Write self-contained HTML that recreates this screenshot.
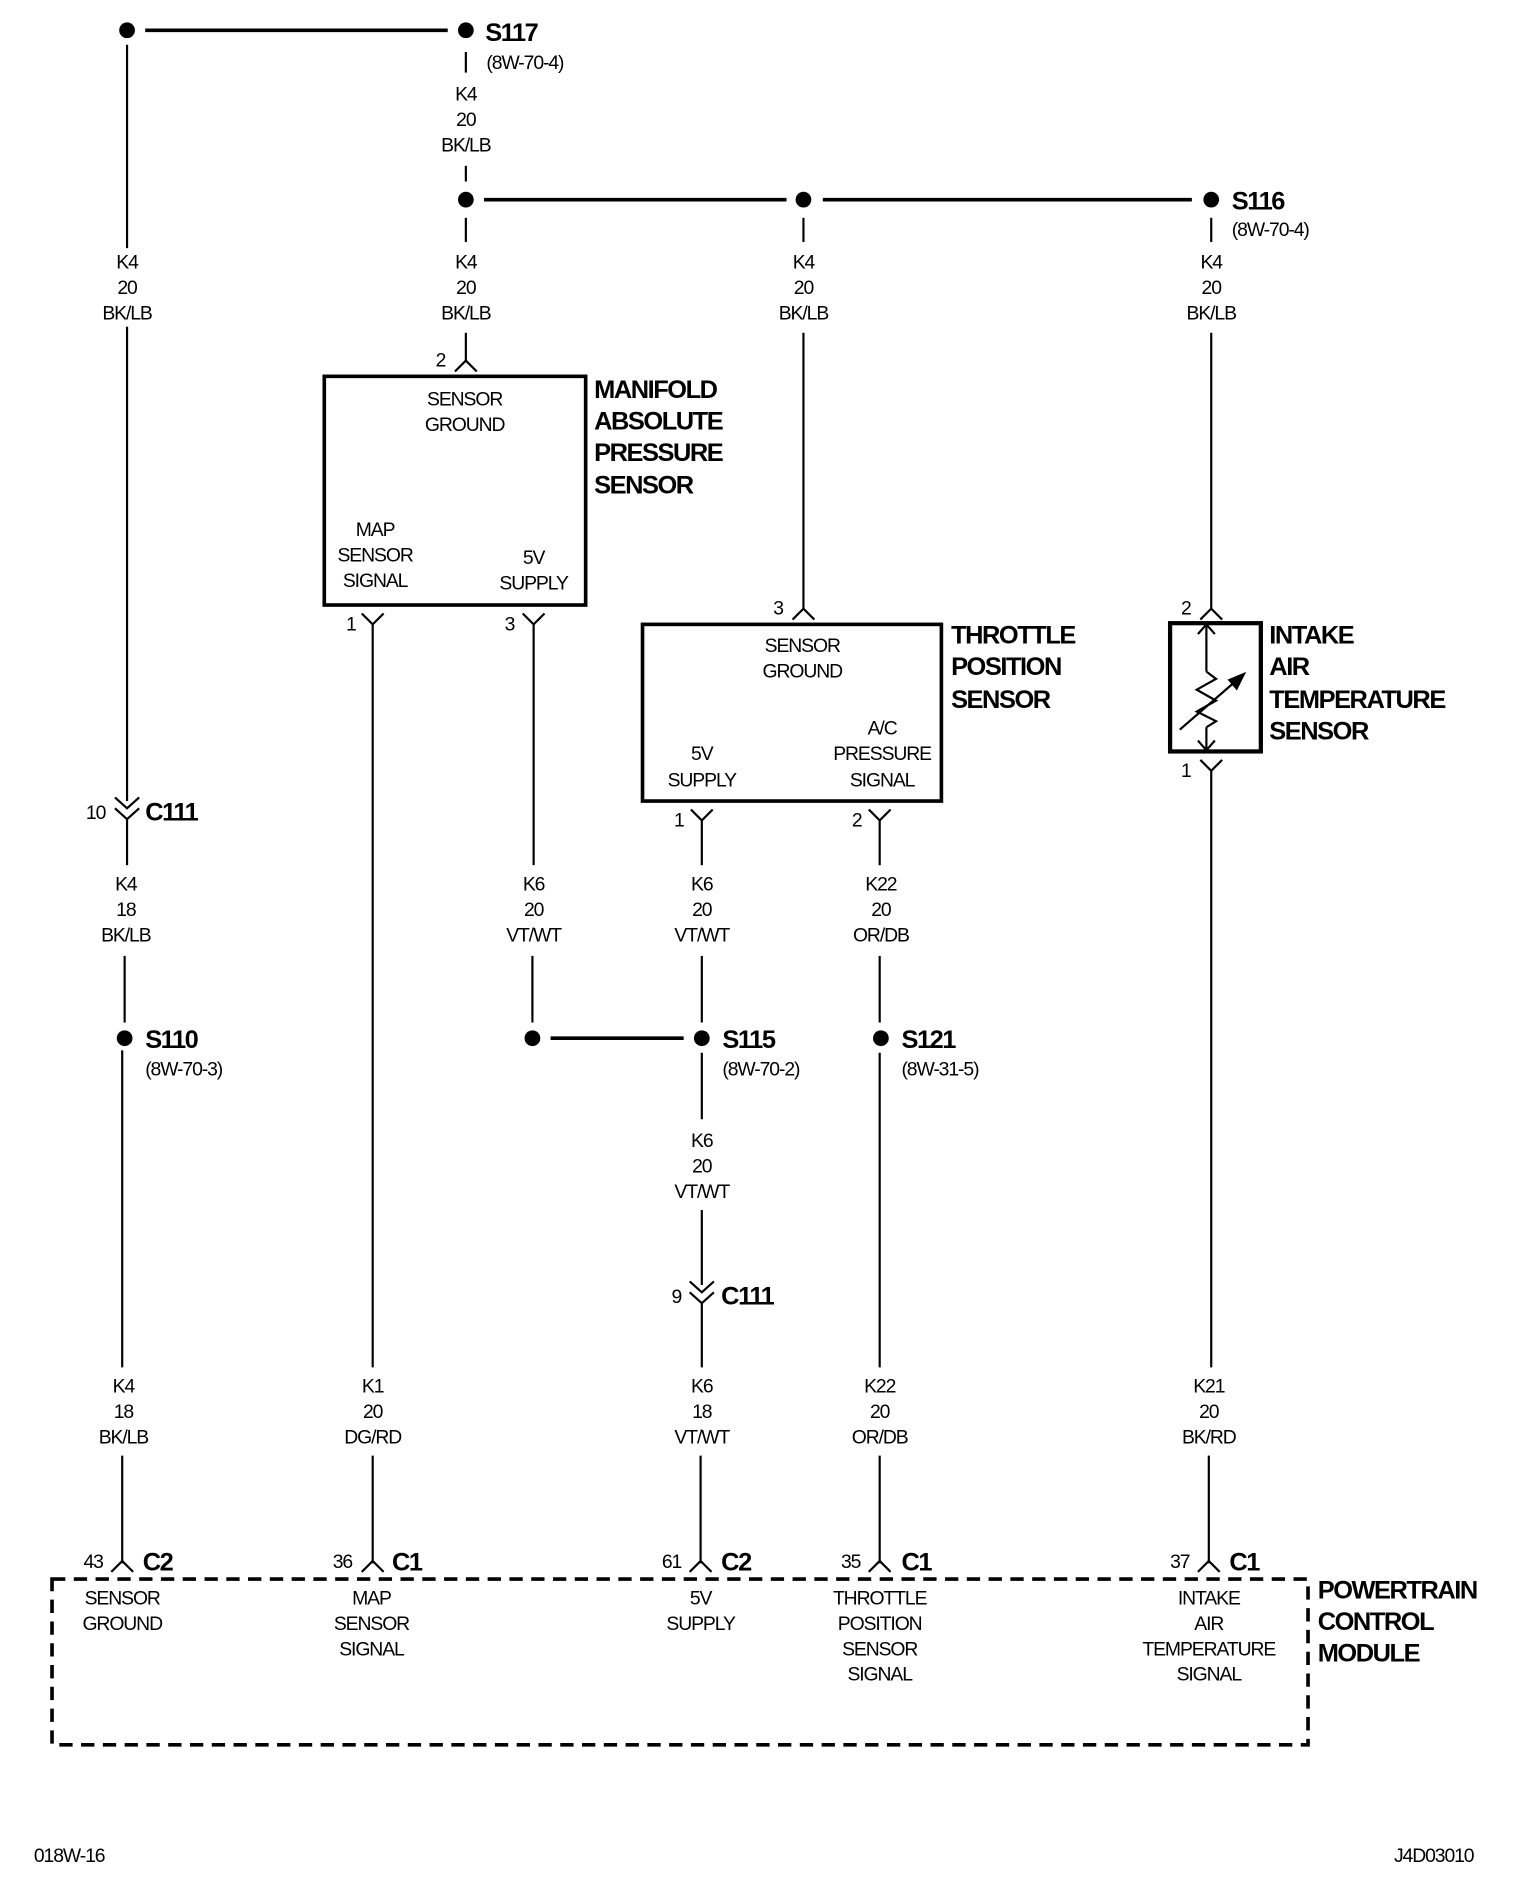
<!DOCTYPE html>
<html><head><meta charset="utf-8"><style>
html,body{margin:0;padding:0;background:#fff;}
svg{display:block;}
text{font-family:"Liberation Sans",sans-serif;fill:#000;}
.s{font-size:16px;letter-spacing:-0.9px;text-anchor:middle;}
.sl{font-size:16px;letter-spacing:-0.9px;}
.b{font-size:21px;font-weight:bold;letter-spacing:-1.2px;}
</style></head><body>
<svg width="1536" height="1904" viewBox="0 0 1269.4 1573.5" xmlns="http://www.w3.org/2000/svg">
<g stroke="#000" stroke-width="1.8" fill="none">
<line x1="120" y1="25" x2="370" y2="25" stroke-width="3"/>
<line x1="105" y1="37" x2="105" y2="205"/>
<line x1="105" y1="270" x2="105" y2="662"/>
<polyline points="95,659 105,668 115,659"/><polyline points="95,668 105,677 115,668"/>
<line x1="105" y1="677" x2="105" y2="715"/>
<line x1="103" y1="790" x2="103" y2="845"/>
<line x1="101" y1="868" x2="101" y2="1130"/>
<line x1="101" y1="1203" x2="101" y2="1292"/>
<polyline points="92,1299 101,1290 110,1299"/>
<line x1="385" y1="43" x2="385" y2="60"/>
<line x1="385" y1="137" x2="385" y2="150"/>
<line x1="385" y1="180" x2="385" y2="200"/>
<line x1="385" y1="275" x2="385" y2="298"/>
<polyline points="376,307 385,298 394,307"/>
<line x1="400" y1="165" x2="650" y2="165" stroke-width="3"/>
<line x1="680" y1="165" x2="985" y2="165" stroke-width="3"/>
<line x1="664" y1="180" x2="664" y2="200"/>
<line x1="664" y1="275" x2="664" y2="503"/>
<polyline points="655,512 664,503 673,512"/>
<line x1="1001" y1="180" x2="1001" y2="200"/>
<line x1="1001" y1="275" x2="1001" y2="503"/>
<polyline points="992,512 1001,503 1010,512"/>
<rect x="268" y="311" width="216" height="189" stroke-width="3"/>
<polyline points="299,507 308,516 317,507"/><line x1="308" y1="516" x2="308" y2="1130"/>
<polyline points="432,507 441,516 450,507"/><line x1="441" y1="516" x2="441" y2="715"/>
<line x1="308" y1="1203" x2="308" y2="1292"/>
<polyline points="299,1299 308,1290 317,1299"/>
<line x1="440" y1="790" x2="440" y2="845"/>
<line x1="455" y1="858" x2="565" y2="858" stroke-width="3"/>
<rect x="531" y="516" width="247" height="146" stroke-width="3"/>
<polyline points="571,669 580,678 589,669"/><line x1="580" y1="678" x2="580" y2="715"/>
<polyline points="718,669 727,678 736,669"/><line x1="727" y1="678" x2="727" y2="715"/>
<line x1="580" y1="790" x2="580" y2="845"/>
<line x1="580" y1="870" x2="580" y2="925"/>
<line x1="580" y1="1000" x2="580" y2="1062"/>
<polyline points="570,1059 580,1068 590,1059"/><polyline points="570,1068 580,1077 590,1068"/>
<line x1="580" y1="1077" x2="580" y2="1130"/>
<line x1="579" y1="1203" x2="579" y2="1292"/>
<polyline points="570,1299 579,1290 588,1299"/>
<line x1="727" y1="790" x2="727" y2="845"/>
<line x1="727" y1="870" x2="727" y2="1130"/>
<line x1="727" y1="1203" x2="727" y2="1292"/>
<polyline points="718,1299 727,1290 736,1299"/>
<rect x="967" y="515" width="75" height="106" stroke-width="3.5"/>
<line x1="997" y1="516" x2="997" y2="555"/>
<polyline points="990,524 997,516 1004,524"/>
<polyline points="997,555 1005,561 989,570 1005,579 989,588 1005,596 997,601"/>
<line x1="997" y1="601" x2="997" y2="620"/>
<polyline points="990,612 997,620 1004,612"/>
<line x1="975" y1="603" x2="1028" y2="557"/>
<polygon points="1028,557 1016,562 1022,569" fill="#000"/>
<polyline points="992,628 1001,637 1010,628"/>
<line x1="1001" y1="637" x2="1001" y2="1130"/>
<line x1="999" y1="1203" x2="999" y2="1292"/>
<polyline points="990,1299 999,1290 1008,1299"/>
<rect x="43" y="1305" width="1038" height="137" stroke-width="3" stroke-dasharray="11,7"/>
</g>
<g fill="#000">
<circle cx="105" cy="25" r="6.5"/><circle cx="385" cy="25" r="6.5"/>
<circle cx="385" cy="165" r="6.5"/><circle cx="664" cy="165" r="6.5"/><circle cx="1001" cy="165" r="6.5"/>
<circle cx="103" cy="858" r="6.5"/><circle cx="440" cy="858" r="6.5"/><circle cx="580" cy="858" r="6.5"/><circle cx="728" cy="858" r="6.5"/>
</g>
<text class="b" x="401" y="34">S117</text><text class="sl" x="402" y="57">(8W-70-4)</text>
<text class="b" x="1018" y="173">S116</text><text class="sl" x="1018" y="195">(8W-70-4)</text>
<text class="b" x="120" y="678">C111</text><text class="sl" x="71" y="677">10</text>
<text class="b" x="120" y="866">S110</text><text class="sl" x="120" y="889">(8W-70-3)</text>
<text class="b" x="597" y="866">S115</text><text class="sl" x="597" y="889">(8W-70-2)</text>
<text class="b" x="745" y="866">S121</text><text class="sl" x="745" y="889">(8W-31-5)</text>
<text class="b" x="596" y="1078">C111</text><text class="sl" x="555" y="1077">9</text>
<g class="s">
<text x="385" y="83">K4</text><text x="385" y="104">20</text><text x="385" y="125">BK/LB</text>
<text x="105" y="222">K4</text><text x="105" y="243">20</text><text x="105" y="264">BK/LB</text>
<text x="385" y="222">K4</text><text x="385" y="243">20</text><text x="385" y="264">BK/LB</text>
<text x="664" y="222">K4</text><text x="664" y="243">20</text><text x="664" y="264">BK/LB</text>
<text x="1001" y="222">K4</text><text x="1001" y="243">20</text><text x="1001" y="264">BK/LB</text>
<text x="104" y="736">K4</text><text x="104" y="757">18</text><text x="104" y="778">BK/LB</text>
<text x="441" y="736">K6</text><text x="441" y="757">20</text><text x="441" y="778">VT/WT</text>
<text x="580" y="736">K6</text><text x="580" y="757">20</text><text x="580" y="778">VT/WT</text>
<text x="728" y="736">K22</text><text x="728" y="757">20</text><text x="728" y="778">OR/DB</text>
<text x="580" y="948">K6</text><text x="580" y="969">20</text><text x="580" y="990">VT/WT</text>
<text x="102" y="1151">K4</text><text x="102" y="1172">18</text><text x="102" y="1193">BK/LB</text>
<text x="308" y="1151">K1</text><text x="308" y="1172">20</text><text x="308" y="1193">DG/RD</text>
<text x="580" y="1151">K6</text><text x="580" y="1172">18</text><text x="580" y="1193">VT/WT</text>
<text x="727" y="1151">K22</text><text x="727" y="1172">20</text><text x="727" y="1193">OR/DB</text>
<text x="999" y="1151">K21</text><text x="999" y="1172">20</text><text x="999" y="1193">BK/RD</text>
<text x="364" y="303">2</text><text x="643" y="508">3</text><text x="980" y="508">2</text>
<text x="290" y="521">1</text><text x="421" y="521">3</text>
<text x="561" y="683">1</text><text x="708" y="683">2</text><text x="980" y="642">1</text>
<text x="77" y="1296">43</text><text x="283" y="1296">36</text><text x="555" y="1296">61</text><text x="703" y="1296">35</text><text x="975" y="1296">37</text>
<text x="384" y="335">SENSOR</text><text x="384" y="356">GROUND</text>
<text x="310" y="443">MAP</text><text x="310" y="464">SENSOR</text><text x="310" y="485">SIGNAL</text>
<text x="441" y="466">5V</text><text x="441" y="487">SUPPLY</text>
<text x="663" y="539">SENSOR</text><text x="663" y="560">GROUND</text>
<text x="580" y="628">5V</text><text x="580" y="650">SUPPLY</text>
<text x="729" y="607">A/C</text><text x="729" y="628">PRESSURE</text><text x="729" y="650">SIGNAL</text>
<text x="101" y="1326">SENSOR</text><text x="101" y="1347">GROUND</text>
<text x="307" y="1326">MAP</text><text x="307" y="1347">SENSOR</text><text x="307" y="1368">SIGNAL</text>
<text x="579" y="1326">5V</text><text x="579" y="1347">SUPPLY</text>
<text x="727" y="1326">THROTTLE</text><text x="727" y="1347">POSITION</text><text x="727" y="1368">SENSOR</text><text x="727" y="1389">SIGNAL</text>
<text x="999" y="1326">INTAKE</text><text x="999" y="1347">AIR</text><text x="999" y="1368">TEMPERATURE</text><text x="999" y="1389">SIGNAL</text>
</g>
<text class="b" x="118" y="1298">C2</text><text class="b" x="324" y="1298">C1</text><text class="b" x="596" y="1298">C2</text><text class="b" x="745" y="1298">C1</text><text class="b" x="1016" y="1298">C1</text>
<text class="b" x="491" y="329">MANIFOLD</text><text class="b" x="491" y="355">ABSOLUTE</text><text class="b" x="491" y="381">PRESSURE</text><text class="b" x="491" y="408">SENSOR</text>
<text class="b" x="786" y="532">THROTTLE</text><text class="b" x="786" y="558">POSITION</text><text class="b" x="786" y="585">SENSOR</text>
<text class="b" x="1049" y="532">INTAKE</text><text class="b" x="1049" y="558">AIR</text><text class="b" x="1049" y="585">TEMPERATURE</text><text class="b" x="1049" y="611">SENSOR</text>
<text class="b" x="1089" y="1321">POWERTRAIN</text><text class="b" x="1089" y="1347">CONTROL</text><text class="b" x="1089" y="1373">MODULE</text>
<text class="sl" x="28" y="1539">018W-16</text><text class="sl" x="1152" y="1539">J4D03010</text>
</svg>
</body></html>
